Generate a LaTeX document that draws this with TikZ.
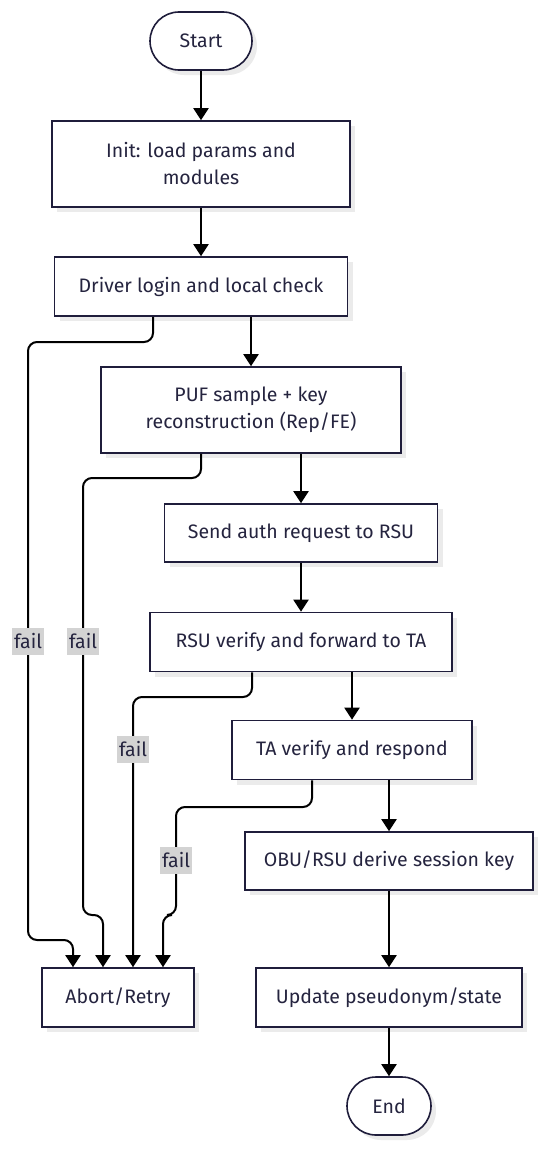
\documentclass[tikz,border=0pt]{standalone}
\usepackage{fontspec}
\setmainfont{Fira Sans}
\usetikzlibrary{arrows.meta,shadows}
\definecolor{inkline}{HTML}{1F1D3B}
\definecolor{inktext}{HTML}{25243F}
\definecolor{failbg}{HTML}{D3D3D3}

\begin{document}
\begin{tikzpicture}[x=1pt, y=-1pt,
    box/.style={draw=inkline, line width=1.6pt, fill=white, text=inktext, align=center,
        inner sep=0pt, font=\fontsize{19.5}{27}\selectfont,
        drop shadow={shadow xshift=5pt, shadow yshift=-5pt, fill=black!8, opacity=1}},
    term/.style={box, rectangle, rounded corners=29pt, minimum width=102pt, minimum height=58pt},
    flow/.style={line width=2pt, black, -{Triangle[length=12pt, width=15pt]}},
    failflow/.style={flow, rounded corners=9pt},
    faillab/.style={fill=failbg, text=inktext, inner xsep=2pt, inner ysep=0pt,
        minimum height=27pt, font=\fontsize{19.5}{22}\selectfont}]
        \useasboundingbox (0,0) rectangle (550,1151);
        % the steps, top to bottom
        \node[term] (start) at (201,41) {Start};
        \node[box, minimum width=298pt, minimum height=86pt] (init) at (201,164) {Init: load params and\\modules};
        \node[box, minimum width=293pt, minimum height=59pt] (login) at (201,286.5) {Driver login and local check};
        \node[box, minimum width=300pt, minimum height=86pt] (puf) at (251,410) {PUF sample + key\\reconstruction (Rep/FE)};
        \node[box, minimum width=273pt, minimum height=58pt] (send) at (301,533) {Send auth request to RSU};
        \node[box, minimum width=302pt, minimum height=59pt] (rsu) at (301,642) {RSU verify and forward to TA};
        \node[box, minimum width=240pt, minimum height=59pt] (ta) at (352,750) {TA verify and respond};
        \node[box, minimum width=288pt, minimum height=58pt] (obu) at (389,861) {OBU/RSU derive session key};
        \node[box, minimum width=266pt, minimum height=59pt] (upd) at (389,997.5) {Update pseudonym/state};
        \node[box, minimum width=152pt, minimum height=59pt] (abort) at (118,997.5) {Abort/Retry};
        \node[term, minimum width=84pt] (stop) at (389,1106) {End};
        % main line
        \foreach \a/\b in {start/init, init/login, send/rsu, obu/upd, upd/stop}
            \draw[flow] (\a) -- (\b);
        \draw[flow] (puf.north |- login.south) -- (puf);
        \draw[flow] (send.north |- puf.south) -- (send);
        \draw[flow] (ta.north |- rsu.south) -- (ta);
        \draw[flow] (obu.north |- ta.south) -- (obu);
        % fail branches -> abort
        \draw[failflow] ([xshift=-48pt]login.south) |- (28,342) -- (28,940) -| ([xshift=-45pt]abort.north);
        \draw[failflow] ([xshift=-50pt]puf.south) |- (83,478) -- (83,915) -| ([xshift=-15pt]abort.north);
        \draw[failflow] ([xshift=-49pt]rsu.south) |- (133,697) -- ([xshift=15pt]abort.north);
        \draw[failflow] ([xshift=-40pt]ta.south) |- (176,807) -- (176,915) -| ([xshift=45pt]abort.north);
        \foreach \i/\x/\y in {1/28/641, 2/83/641, 3/133/749, 4/176/860}
            \node[faillab] (fail\i) at (\x,\y) {fail};
    \end{tikzpicture}
\end{document}
